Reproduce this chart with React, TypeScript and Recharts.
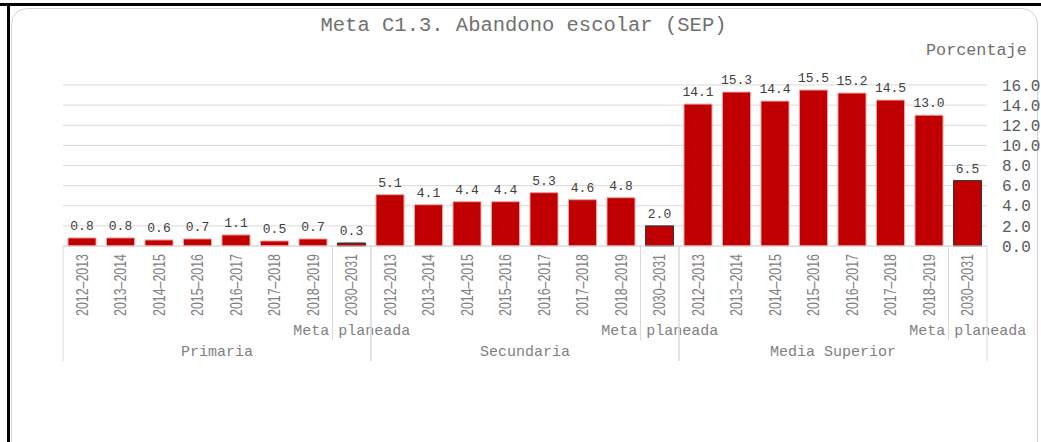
import React from "react";
import { BarChart, Bar, XAxis, YAxis, CartesianGrid, Cell, LabelList } from "recharts";

const periods = ["2012–2013", "2013–2014", "2014–2015", "2015–2016", "2016–2017", "2017–2018", "2018–2019", "2030–2031"];
const groups = ["Primaria", "Secundaria", "Media Superior"];
const primaria = [0.8, 0.8, 0.6, 0.7, 1.1, 0.5, 0.7, 0.3];
const secundaria = [5.1, 4.1, 4.4, 4.4, 5.3, 4.6, 4.8, 2.0];
const mediaSuperior = [14.1, 15.3, 14.4, 15.5, 15.2, 14.5, 13.0, 6.5];
const metaLabel = "Meta planeada";
const yTicks = [0, 2, 4, 6, 8, 10, 12, 14, 16];

const seriesByGroup = [primaria, secundaria, mediaSuperior];
const data = groups.flatMap((g, gi) =>
  periods.map((p, pi) => ({
    key: `${g}-${p}`,
    period: p,
    group: g,
    meta: pi === periods.length - 1,
    value: seriesByGroup[gi][pi],
  }))
);

const W = 1041;
const H = 442;
const M_LEFT = 63;
const Y_W = 54;
const PLOT_W = W - M_LEFT - Y_W;
const HALF = PLOT_W / data.length / 2;
const MONO = "'Liberation Mono', 'Courier New', monospace";
const LINE = "#d9d9d9";

const XTick = (props: any) => {
  const { x, y, payload } = props;
  const i = payload.index;
  const d = data[i];
  const pos = i % periods.length;
  const ty = y + 8;
  return (
    <g>
      <text
        x={x}
        y={ty}
        transform={`rotate(-90, ${x}, ${ty})`}
        textAnchor="end"
        dominantBaseline="central"
        fontFamily="'Liberation Sans', Arial, sans-serif"
        fontSize={16}
        textLength={62}
        lengthAdjust="spacingAndGlyphs"
        fill="#808080"
      >
        {d.period}
      </text>
      {d.meta && (
        <>
          <text x={x} y={y + 89} textAnchor="middle" fontFamily={MONO} fontSize={15} fill="#7f7f7f">
            {metaLabel}
          </text>
          <line x1={x - HALF} x2={x - HALF} y1={y} y2={y + 94} stroke={LINE} />
        </>
      )}
      {pos === 0 && <line x1={x - HALF} x2={x - HALF} y1={y} y2={y + 115} stroke={LINE} />}
      {pos === periods.length - 1 && <line x1={x + HALF} x2={x + HALF} y1={y} y2={y + 115} stroke={LINE} />}
      {pos === 3 && (
        <text x={x + HALF} y={y + 110} textAnchor="middle" fontFamily={MONO} fontSize={15} fill="#7f7f7f">
          {d.group}
        </text>
      )}
    </g>
  );
};

export default function App() {
  return (
    <div style={{ position: "absolute", left: 0, top: 0, width: W, height: H, overflow: "hidden", background: "#fff" }}>
      <div style={{ position: "absolute", left: 0, top: 3, width: W, height: 3, background: "#000" }} />
      <div style={{ position: "absolute", left: 7, top: 3, width: 3, height: H, background: "#000" }} />
      <div
        style={{
          position: "absolute",
          left: 11,
          top: 8,
          width: 1027,
          height: 460,
          border: "1px solid #d4d4d4",
          borderRadius: 16,
          boxSizing: "border-box",
        }}
      />
      <div
        style={{
          position: "absolute",
          left: 0,
          width: W,
          top: 14,
          textAlign: "center",
          paddingLeft: 6,
          boxSizing: "border-box",
          fontFamily: MONO,
          fontSize: 20.5,
          color: "#707070",
          lineHeight: "24px",
          whiteSpace: "nowrap",
        }}
      >
        Meta C1.3. Abandono escolar (SEP)
      </div>
      <div
        style={{
          position: "absolute",
          left: 926,
          top: 41,
          fontFamily: MONO,
          fontSize: 16.8,
          color: "#707070",
          lineHeight: "20px",
          whiteSpace: "nowrap",
        }}
      >
        Porcentaje
      </div>
      <div style={{ position: "absolute", left: 0, top: 0 }}>
        <BarChart width={W} height={H} data={data} margin={{ top: 85, right: 0, left: M_LEFT, bottom: 81 }}>
          <CartesianGrid vertical={false} stroke={LINE} />
          <XAxis
            dataKey="key"
            interval={0}
            height={115}
            tickSize={0}
            tickMargin={0}
            tickLine={false}
            axisLine={{ stroke: LINE }}
            tick={<XTick />}
          />
          <YAxis
            orientation="right"
            width={Y_W}
            domain={[0, 16]}
            ticks={yTicks}
            interval={0}
            axisLine={false}
            tickLine={false}
            tickSize={0}
            tickMargin={15}
            tickFormatter={(v: number) => v.toFixed(1)}
            tick={{ fontFamily: MONO, fontSize: 16, fill: "#595959", textAnchor: "start" }}
          />
          <Bar dataKey="value" barSize={28} fill="#C00000" isAnimationActive={false}>
            {data.map((d) => (
              <Cell key={d.key} fill="#C00000" stroke={d.meta ? "#333333" : "#f0a0a0"} strokeWidth={1} />
            ))}
            <LabelList
              dataKey="value"
              position="top"
              offset={8}
              formatter={(v: any) => Number(v).toFixed(1)}
              style={{ fontFamily: MONO, fontSize: 13, fill: "#404040" }}
            />
          </Bar>
        </BarChart>
      </div>
    </div>
  );
}
